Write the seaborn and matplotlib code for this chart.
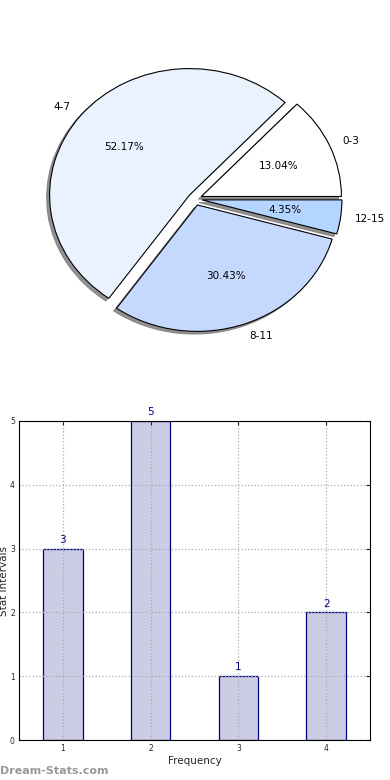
import numpy as np
import matplotlib
matplotlib.use('Agg')
import matplotlib.pyplot as plt
import seaborn as sns
import pandas as pd

# pie data
pie_labels = ['0-3', '4-7', '8-11', '12-15']
pie_counts = [3, 12, 7, 1]
pie_colors = ['#FFFFFF', '#EAF1FF', '#C5D9FF', '#B4D5FF']

# bar data
bar_x = [1, 2, 3, 4]
bar_vals = [3, 5, 1, 2]

sns.set_style('white')
plt.rcParams['font.family'] = ['DejaVu Sans']
plt.rcParams['text.color'] = 'black'

fig = plt.figure(figsize=(3.9, 7.8), dpi=100)

# --- pie ---
ax1 = fig.add_axes([6 / 390, 1 - 376 / 780, 378 / 390, 354 / 780])
ax1.pie(pie_counts, labels=pie_labels, colors=pie_colors, autopct='%.2f%%',
        explode=[0.05] * 4, shadow={'ox': -0.015, 'oy': -0.015, 'color': '#777777', 'alpha': 0.8},
        startangle=0,
        wedgeprops=dict(edgecolor='black', linewidth=0.8),
        textprops=dict(fontsize=7.5, color='black'))
ax1.set_aspect('auto')
ax1.set_xlim(-1.35, 1.35)
ax1.set_ylim(-1.4, 1.4)
ax1.axis('off')

# --- bars ---
ax2 = fig.add_axes([19 / 390, 40 / 780, 351 / 390, 319 / 780])
df = pd.DataFrame({'x': bar_x, 'y': bar_vals})
sns.barplot(data=df, x='x', y='y', native_scale=True, width=0.45,
            color='#CCCCE5', saturation=1, edgecolor='#000080', linewidth=0.9, ax=ax2)
for xv, yv in zip(bar_x, bar_vals):
    ax2.text(xv, yv + 0.06, str(yv), ha='center', va='bottom', color='#000080', fontsize=7.5)
ax2.set_xlim(0.5, 4.5)
ax2.set_ylim(0, 5)
ax2.set_xticks(bar_x)
ax2.set_yticks([0, 1, 2, 3, 4, 5])
ax2.tick_params(labelsize=5.5, direction='in', length=3, top=True, right=True, pad=3)
ax2.grid(True, linestyle=':', color='#AAAAAA', linewidth=0.9)
ax2.set_axisbelow(False)
for s in ax2.spines.values():
    s.set_color('black')
    s.set_linewidth(0.8)
    s.set_zorder(5)
ax2.set_xlabel('Frequency', fontsize=7.5, labelpad=2)
ax2.set_ylabel('Stat Intervals', fontsize=7.5, labelpad=1)

fig.text(0.0, 9 / 780, 'Dream-Stats.com', color='#999999', fontsize=8, fontweight='bold', ha='left', va='center')

fig.savefig('out.png', dpi=100)
